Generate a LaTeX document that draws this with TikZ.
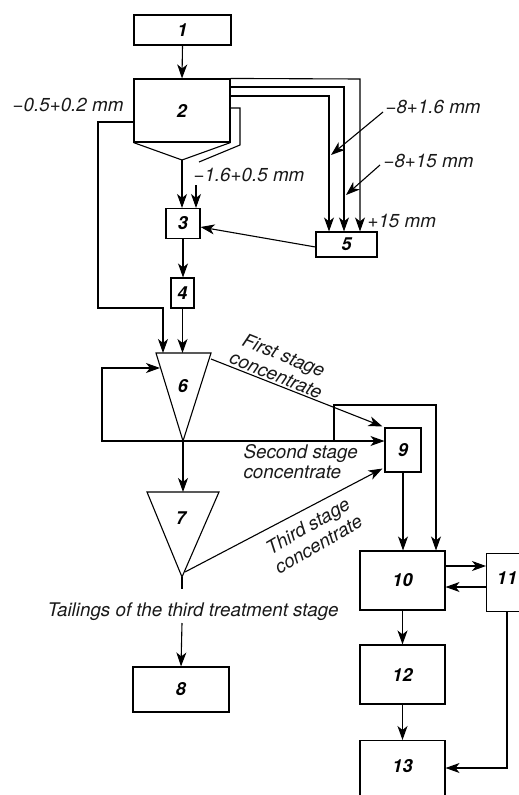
\documentclass[tikz,border=0pt]{standalone}
\usepackage{fontspec}
\setmainfont{TeX Gyre Heros}
\usetikzlibrary{arrows.meta,calc}
\begin{document}
\begin{tikzpicture}[x=1pt,y=-1pt,line width=1.1pt,
  arr/.style={-{Stealth[length=14pt,width=10pt,inset=4pt]}},
  blk/.style={draw,rectangle,inner sep=0pt,font=\fontsize{18}{21}\selectfont\bfseries\itshape},
  lbl/.style={inner sep=0pt,font=\fontsize{18.8}{21}\selectfont\itshape,text=black!90},
  num/.style={inner sep=0pt,font=\fontsize{18}{21}\selectfont\bfseries\itshape}]
\clip (0,0) rectangle (519,795);
\useasboundingbox (0,0) rectangle (519,795);
% boxes
\node[blk,minimum width=97pt,minimum height=30pt] (b1) at (182.5,30) {1};
\node[blk,minimum width=96pt,minimum height=63pt] (b2) at (182,110.5) {2};
\coordinate (f2) at (182,160);
\draw (b2.south west) -- (f2) -- (b2.south east);
\node[blk,minimum width=34pt,minimum height=30pt] (b3) at (183,223.5) {3};
\node[blk,minimum width=23pt,minimum height=30pt] (b4) at (182.5,293) {4};
\node[blk,minimum width=61pt,minimum height=25pt] (b5) at (346.5,244.5) {5};
\node[blk,minimum width=36pt,minimum height=44pt] (b9) at (403,450) {9};
\node[blk,minimum width=85pt,minimum height=59pt] (b10) at (402.5,580.5) {10};
\node[blk,minimum width=40pt,minimum height=58pt,anchor=north west] (b11) at (486,553) {};
\node[num] at (507,578) {11};
\node[blk,minimum width=85pt,minimum height=59pt] (b12) at (402.5,674.5) {12};
\node[blk,minimum width=85pt,minimum height=62pt,anchor=north] (b13) at (402.5,740) {};
\node[num] at (402.5,766) {13};
\node[blk,minimum width=96pt,minimum height=45pt] (b8) at (181,689.5) {8};
% triangles
\coordinate (t6l) at (156,353); \coordinate (t6r) at (211,353); \coordinate (t6a) at (183,441);
\draw (t6l) -- (t6r) -- (t6a) -- cycle;
\node[num] (n6) at (183,386) {6};
\coordinate (t7l) at (147,492); \coordinate (t7r) at (219,492); \coordinate (t7a) at (182,577);
\draw (t7l) -- (t7r) -- (t7a) -- cycle;
\node[num] (n7) at (181,518) {7};
% connectors top
\draw[arr] (b1.south) -- (b2.north);
\draw[arr] (f2) -- (f2 |- b3.north);
\coordinate (s1) at (230,108); \coordinate (s2) at (240,108); \coordinate (s3) at (240,145); \coordinate (s4) at (199,162);
\draw (s1) -- (s2) -- (s3) -- (s4);
\coordinate (s5) at (196,185);
\draw[arr] (s5) -- (s5 |- b3.north);
\coordinate (l1) at (134,122); \coordinate (l2) at (98,122); \coordinate (l3) at (98,308); \coordinate (l4) at (163,308); \coordinate (l5) at (163,353);
\draw[arr] (l1) -- (l2) -- (l3) -- (l4) -- (l5);
\coordinate (r1) at (360,79); \coordinate (r2) at (230,87); \coordinate (r2b) at (344,87); \coordinate (r3) at (230,96); \coordinate (r3b) at (329,96);
\draw[arr] (b2.north east) -- (r1) -- (r1 |- b5.north);
\draw[arr] (r2) -- (r2b) -- (r2b |- b5.north);
\draw[arr] (r3) -- (r3b) -- (r3b |- b5.north);
\coordinate (p1) at (383,112); \coordinate (p1e) at (331,155);
\coordinate (p2) at (380,165); \coordinate (p2e) at (346,195);
\draw[arr] (p1) -- (p1e);
\draw[arr] (p2) -- (p2e);
\draw[arr] ([yshift=-2.5pt]b5.west) -- ([yshift=-3.5pt]b3.east);
\draw[arr] (b3.south) -- (b3.south |- b4.north);
\draw[arr] (b4.south) -- (b4.south |- t6l);
% 6 outputs
\coordinate (lp1) at (102,441); \coordinate (lp2) at (102,368); \coordinate (lp3) at (160,368);
\draw[arr] (t6a) -- (lp1) -- (lp2) -- (lp3);
\draw[arr] (t6a) -- (t6a -| b9.west);
\coordinate (k1) at (334,441); \coordinate (k2) at (334,405); \coordinate (k3) at (436,405);
\draw[arr] (k1) -- (k2) -- (k3) -- (k3 |- b10.north);
\coordinate (fs) at (211,359);
\draw[arr] (fs) -- ([xshift=-2pt,yshift=1pt]b9.north west);
\coordinate (ts2) at (185,572);
\draw[arr] (ts2) -- ([xshift=-2pt,yshift=4pt]b9.south west);
\draw[arr] (t6a) -- (t6a |- t7l);
\draw[arr] (b9.south) -- (b9.south |- b10.north);
% tailings
\coordinate (tl1) at (182,589); \coordinate (tl2) at (182,623);
\draw (t7a) -- (tl1);
\draw[arr] (tl2) -- (b8.north);
% right side
\draw[arr] ([yshift=14.5pt]b10.east) -- ([yshift=14.5pt]b10.east -| b11.west);
\draw[arr] ([yshift=-6.5pt]b10.east -| b11.west) -- ([yshift=-6.5pt]b10.east);
\draw[arr] (b10.south) -- (b12.north);
\draw[arr] (b12.south) -- (b13.north);
\coordinate (q1) at (507,611); \coordinate (q2) at (507,768);
\draw[arr] (q1) -- (q2) -- (q2 -| b13.east);
% labels
\node[lbl,anchor=base east] at (124,111) {−0.5+0.2 mm};
\node[lbl,anchor=base west] at (193,181) {−1.6+0.5 mm};
\node[lbl,anchor=base west] at (385,113) {−8+1.6 mm};
\node[lbl,anchor=base west] at (383,167) {−8+15 mm};
\node[lbl,anchor=base west] at (367,227) {+15 mm};
\node[lbl,anchor=base west] at (47,616) {Tailings of the third treatment stage};
\node[lbl,anchor=base west] at (243,458) {Second stage};
\node[lbl,anchor=base west] at (243,478) {concentrate};
\node[lbl,align=center,rotate=-22] at (280,365) {First stage\\concentrate};
\node[lbl,align=center,rotate=30] at (313,535) {Third stage\\concentrate};
\end{tikzpicture}
\end{document}
